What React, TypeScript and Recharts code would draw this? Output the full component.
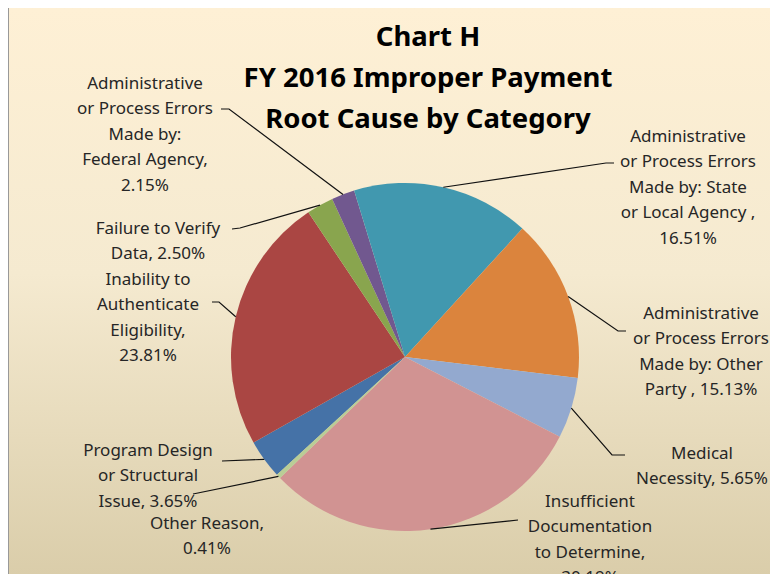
import { PieChart, Pie, Cell } from "recharts";

// slice order as in the source workbook (clockwise from lower left)
const categories = [
  "Program Design or Structural Issue",
  "Inability to Authenticate Eligibility",
  "Failure to Verify Data",
  "Administrative or Process Errors Made by: Federal Agency",
  "Administrative or Process Errors Made by: State or Local Agency",
  "Administrative or Process Errors Made by: Other Party",
  "Medical Necessity",
  "Insufficient Documentation to Determine",
  "Other Reason",
];
const shares = [3.65, 23.81, 2.5, 2.15, 16.51, 15.13, 5.65, 30.19, 0.41];
const labelLines = [
  ["Program Design", "or Structural", "Issue, 3.65%"],
  ["Inability to", "Authenticate", "Eligibility,", "23.81%"],
  ["Failure to Verify", "Data, 2.50%"],
  ["Administrative", "or Process Errors", "Made by:", "Federal Agency,", "2.15%"],
  ["Administrative", "or Process Errors", "Made by: State", "or Local Agency ,", "16.51%"],
  ["Administrative", "or Process Errors", "Made by: Other", "Party , 15.13%"],
  ["Medical", "Necessity, 5.65%"],
  ["Insufficient", "Documentation", "to Determine,", "30.19%"],
  ["Other Reason,", "0.41%"],
];
const colors = [
  "#4572A7", "#AA4643", "#89A54E", "#71588F", "#4198AF",
  "#DB843D", "#93A9CF", "#D19392", "#B9CD96",
];

// label layout: text centre x, first line y, leader line bend points
const labelLayout = [
  { x: 148, y: 449, pts: [[222, 461]] },
  { x: 148, y: 278, pts: [[219, 302], [212, 302]] },
  { x: 158, y: 227, pts: [[240, 228], [232, 229]] },
  { x: 145, y: 82, pts: [[229, 109], [221, 109]] },
  { x: 688, y: 135, pts: [[606, 163], [614, 163]] },
  { x: 701, y: 312, pts: [[618, 331], [626, 331]] },
  { x: 702, y: 452, pts: [[612, 455], [625, 455]] },
  { x: 590, y: 500, pts: [[518, 520]] },
  { x: 207, y: 522, pts: [[193, 494]] },
];

const data = categories.map((name, i) => ({ name, value: shares[i] }));

const FONT = "'Noto Sans', sans-serif";
const RAD = Math.PI / 180;

const renderLabel = (props: any) => {
  const { cx, cy, midAngle, outerRadius, index } = props;
  const lay = labelLayout[index];
  const sx = cx + outerRadius * Math.cos(-midAngle * RAD);
  const sy = cy + outerRadius * Math.sin(-midAngle * RAD);
  const path =
    `M${sx},${sy}` + lay.pts.map((p) => `L${p[0]},${p[1]}`).join("");
  return (
    <g key={`lbl-${index}`}>
      <path d={path} stroke="#111" strokeWidth={1.2} fill="none" />
      {labelLines[index].map((t, j) => (
        <text
          key={j}
          x={lay.x}
          y={lay.y + j * 25.5}
          textAnchor="middle"
          dominantBaseline="central"
          fontFamily={FONT}
          fontSize={17}
          fill="#262626"
        >
          {t}
        </text>
      ))}
    </g>
  );
};

const titleLines = ["Chart H", "FY 2016 Improper Payment", "Root Cause by Category"];

export default function App() {
  return (
    <div style={{ position: "relative", width: 778, height: 582, margin: -8, background: "#fff", overflow: "hidden" }}>
      <div
        style={{
          position: "absolute",
          left: 8,
          top: 7,
          width: 764,
          height: 590,
          border: "1px solid #999",
          background: "linear-gradient(180deg, #FEF0D5 0%, #F5EAD0 45%, #D8CBA7 100%)",
        }}
      />
      <div style={{ position: "absolute", left: 0, top: 0 }}>
        <PieChart width={778} height={582} margin={{ top: 0, right: 0, bottom: 0, left: 0 }}>
          <Pie
            data={data}
            dataKey="value"
            nameKey="name"
            cx={405}
            cy={357}
            outerRadius={174}
            startAngle={-137.4}
            endAngle={-497.4}
            stroke="none"
            label={renderLabel}
            labelLine={false}
            isAnimationActive={false}
          >
            {data.map((d, i) => (
              <Cell key={d.name} fill={colors[i]} />
            ))}
          </Pie>
          {titleLines.map((t, i) => (
            <text
              key={t}
              x={428}
              y={35 + i * 41}
              textAnchor="middle"
              dominantBaseline="central"
              fontFamily={FONT}
              fontWeight="bold"
              fontSize={27.5}
              fill="#000"
            >
              {t}
            </text>
          ))}
        </PieChart>
      </div>
    </div>
  );
}
